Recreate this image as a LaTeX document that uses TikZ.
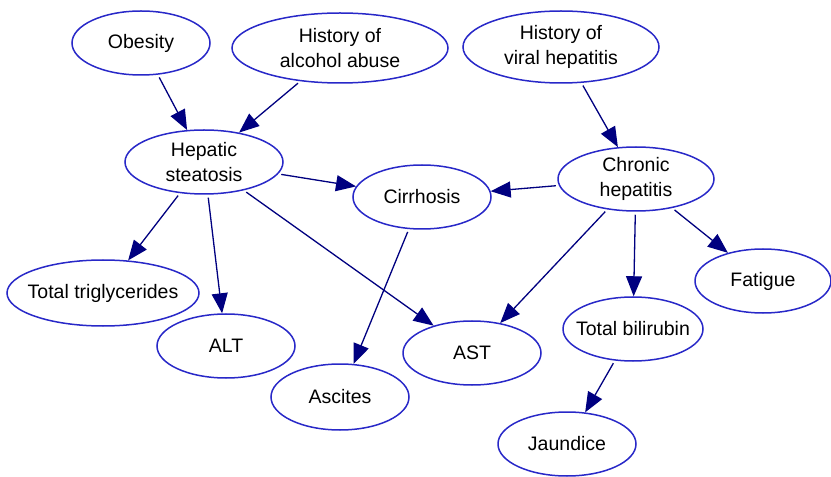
\documentclass[tikz,border=0pt]{standalone}
\usepackage{fontspec}
\setmainfont{Liberation Sans}
\usetikzlibrary{shapes.geometric,arrows.meta}
\definecolor{nodeblue}{RGB}{40,40,200}
\definecolor{edgenavy}{RGB}{0,0,128}
\begin{document}
\begin{tikzpicture}[x=1bp,y=-1bp,
  var/.style={ellipse,draw=nodeblue,line width=1.5bp,inner sep=-45bp,
    align=center,font=\fontsize{19.5bp}{25bp}\selectfont,text=black},
  link/.style={draw=edgenavy,line width=1.3bp,shorten <=3bp,
    -{Triangle[length=20bp,width=16bp]}}]
\fill[white] (0,0) rectangle (831,477);
\useasboundingbox (0,0) rectangle (831,477);
% causes
\node[var,minimum width=138bp,minimum height=64bp] (obes) at (141,43) {Obesity};
\node[var,minimum width=216bp,minimum height=70bp] (alc) at (340,48) {History of\\alcohol abuse};
\node[var,minimum width=196bp,minimum height=72bp] (vir) at (561,47) {History of\\viral hepatitis};
% liver conditions
\node[var,minimum width=158bp,minimum height=64bp] (steat) at (204,162) {Hepatic\\steatosis};
\node[var,minimum width=138bp,minimum height=64bp] (cirr) at (422,197) {Cirrhosis};
\node[var,minimum width=156bp,minimum height=64bp] (chron) at (636,179) {Chronic\\hepatitis};
% findings
\node[var,minimum width=192bp,minimum height=66bp] (trig) at (103,293) {Total triglycerides};
\node[var,minimum width=138bp,minimum height=64bp] (alt) at (226,346) {ALT};
\node[var,minimum width=138bp,minimum height=64bp] (ast) at (472,353) {AST};
\node[var,minimum width=138bp,minimum height=66bp] (asc) at (340,397) {Ascites};
\node[var,minimum width=140bp,minimum height=64bp] (bili) at (633,329) {Total bilirubin};
\node[var,minimum width=136bp,minimum height=64bp] (fat) at (763,281) {Fatigue};
\node[var,minimum width=138bp,minimum height=64bp] (jaun) at (567,444) {Jaundice};
% dependencies
\draw[link] (obes) -- (steat);
\draw[link] (alc) -- (steat);
\draw[link] (vir) -- (chron);
\draw[link] (steat) -- (cirr);
\draw[link] (chron) -- (cirr);
\draw[link] (steat) -- (trig);
\draw[link] (steat) -- (alt);
\draw[link] (steat) -- (ast);
\draw[link] (cirr) -- (asc);
\draw[link] (chron) -- (ast);
\draw[link] (chron) -- (bili);
\draw[link] (chron) -- (fat);
\draw[link] (bili) -- (jaun);
\end{tikzpicture}
\end{document}
